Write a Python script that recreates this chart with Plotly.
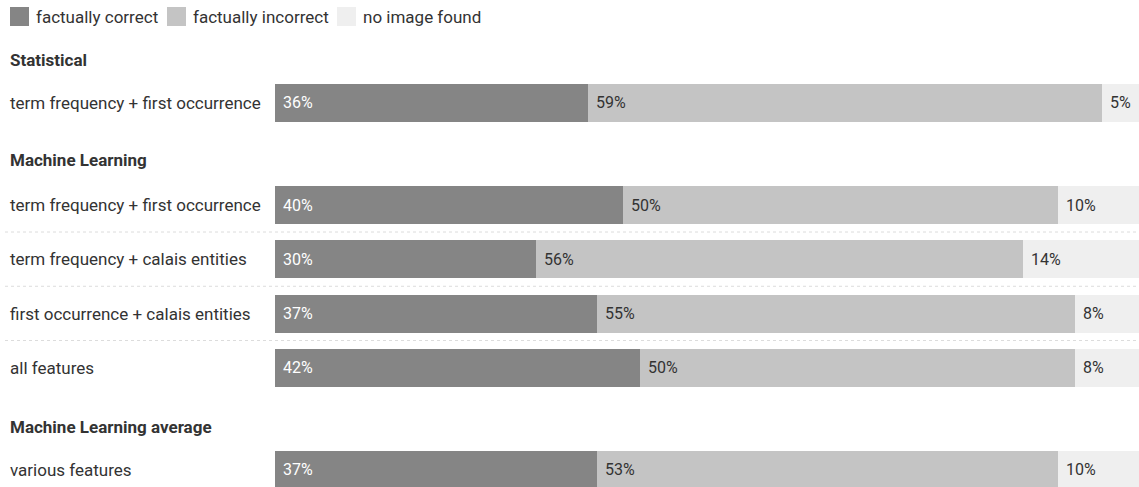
import plotly.graph_objects as go

# ---- data ----
groups = ["Statistical", "Machine Learning", "Machine Learning average"]
row_labels = [
    "term frequency + first occurrence",
    "term frequency + first occurrence",
    "term frequency + calais entities",
    "first occurrence + calais entities",
    "all features",
    "various features",
]
row_group = [0, 1, 1, 1, 1, 2]
series_names = ["factually correct", "factually incorrect", "no image found"]
correct = [36, 40, 30, 37, 42, 37]
incorrect = [59, 50, 56, 55, 50, 53]
no_image = [5, 10, 14, 8, 8, 10]

# ---- layout constants (pixels) ----
W, H = 1139, 487
BAR_LEFT = 275
PX_PER_100 = 870
HEADER_Y = [60, 160, 427]
ROW_Y = [102.5, 205, 259, 313.5, 367.5, 469.5]
BAR_H = 38
colors = ["#858585", "#c4c4c4", "#efefef"]
text_colors = ["#ffffff", "#333333", "#333333"]
FONT = "Roboto"
TXT = "#333333"

series = [correct, incorrect, no_image]
fig = go.Figure()
base = [0] * len(row_labels)
annotations = []
for name, vals, col, tcol in zip(series_names, series, colors, text_colors):
    fig.add_trace(go.Bar(
        x=vals, y=ROW_Y, base=base[:], orientation="h", name=name,
        marker=dict(color=col, line=dict(width=0)), width=BAR_H,
        showlegend=False, hoverinfo="skip",
    ))
    for b, v, y in zip(base, vals, ROW_Y):
        annotations.append(dict(
            x=b, y=y, xref="x", yref="y", text=f"{v}%", showarrow=False,
            xanchor="left", yanchor="middle", xshift=6,
            font=dict(family=FONT, size=16, color=tcol),
        ))
    base = [b + v for b, v in zip(base, vals)]

# row labels
for lab, y in zip(row_labels, ROW_Y):
    annotations.append(dict(
        x=8 / W, y=y, xref="paper", yref="y", text=lab, showarrow=False,
        xanchor="left", yanchor="middle",
        font=dict(family=FONT, size=17, color=TXT),
    ))
# group headers
for g, y in zip(groups, HEADER_Y):
    annotations.append(dict(
        x=8 / W, y=y, xref="paper", yref="y", text=f"<b>{g}</b>", showarrow=False,
        xanchor="left", yanchor="middle",
        font=dict(family=FONT, size=17, color=TXT),
    ))

shapes = []
# separators between rows in the same group
for i in range(len(ROW_Y) - 1):
    if row_group[i] == row_group[i + 1]:
        ym = (ROW_Y[i] + ROW_Y[i + 1]) / 2
        shapes.append(dict(type="line", xref="paper", yref="y", x0=5 / W, x1=1,
                           y0=ym, y1=ym, line=dict(color="#dcdcdc", width=1, dash="dot")))

# legend
leg_x = [10, 167, 337]
for name, col, lx in zip(series_names, colors, leg_x):
    shapes.append(dict(type="rect", xref="paper", yref="y", x0=lx / W, x1=(lx + 19) / W,
                       y0=7, y1=26, fillcolor=col, line=dict(width=0)))
    annotations.append(dict(
        x=(lx + 24) / W, y=16.5, xref="paper", yref="y", text=name, showarrow=False,
        xanchor="left", yanchor="middle",
        font=dict(family=FONT, size=17, color=TXT),
    ))

fig.update_layout(
    width=W, height=H, margin=dict(l=0, r=0, t=0, b=0),
    paper_bgcolor="white", plot_bgcolor="white",
    barmode="overlay", bargap=0,
    xaxis=dict(domain=[BAR_LEFT / W, 1], range=[0, 100 * (W - BAR_LEFT) / PX_PER_100],
               visible=False, fixedrange=True),
    yaxis=dict(range=[H, 0], visible=False, fixedrange=True),
    annotations=annotations, shapes=shapes,
    showlegend=False, hovermode=False,
)
fig.write_html("out.html", config={"displayModeBar": False},
               post_script="document.body.style.margin='0';document.body.style.overflow='hidden';")
